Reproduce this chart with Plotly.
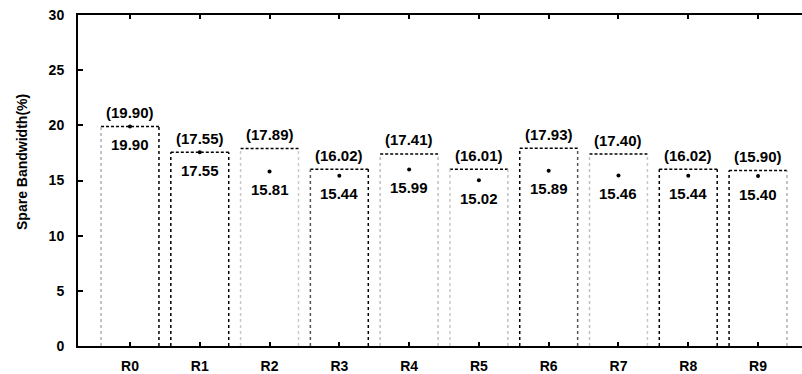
import plotly.graph_objects as go

# Spare bandwidth per router: bar height (bracketed label) and measured point
routers = ["R0", "R1", "R2", "R3", "R4", "R5", "R6", "R7", "R8", "R9"]
bound_vals = [19.90, 17.55, 17.89, 16.02, 17.41, 16.01, 17.93, 17.40, 16.02, 15.90]
measured_vals = [19.90, 17.55, 15.81, 15.44, 15.99, 15.02, 15.89, 15.46, 15.44, 15.40]

# Outline colours of the left / right bar edges
left_edge = ["#b0b0b0", "#000", "#c8c8c8", "#555", "#c0c0c0", "#c8c8c8", "#000", "#c0c0c0", "#000", "#000"]
right_edge = ["#000", "#000", "#c8c8c8", "#000", "#c0c0c0", "#c0c0c0", "#555", "#c8c8c8", "#000", "#b0b0b0"]

BAR_W = 0.83
FONT = "Liberation Sans, Arial, sans-serif"

fig = go.Figure()

for i, (b, m) in enumerate(zip(bound_vals, measured_vals)):
    x0, x1 = i - BAR_W / 2, i + BAR_W / 2
    # dashed top edge
    fig.add_trace(go.Scatter(
        x=[x0, x1], y=[b, b], mode="lines",
        line=dict(color="#000", width=1.5, dash="3px,2px"),
        hoverinfo="skip", showlegend=False))
    # dotted side edges
    fig.add_trace(go.Scatter(
        x=[x0, x0], y=[0, b], mode="lines",
        line=dict(color=left_edge[i], width=1.5, dash="dot"),
        hoverinfo="skip", showlegend=False))
    fig.add_trace(go.Scatter(
        x=[x1, x1], y=[0, b], mode="lines",
        line=dict(color=right_edge[i], width=1.5, dash="dot"),
        hoverinfo="skip", showlegend=False))

# measured points
fig.add_trace(go.Scatter(
    x=list(range(len(routers))), y=measured_vals, mode="markers",
    marker=dict(color="#000", size=4), showlegend=False))

annotations = []
for i, (b, m) in enumerate(zip(bound_vals, measured_vals)):
    annotations.append(dict(
        x=i, y=b, xref="x", yref="y", text=f"<b>({b:.2f})</b>", showarrow=False,
        yanchor="middle", yshift=14, font=dict(family=FONT, size=15, color="#000")))
    annotations.append(dict(
        x=i, y=m, xref="x", yref="y", text=f"<b>{m:.2f}</b>", showarrow=False,
        yanchor="middle", yshift=-18, font=dict(family=FONT, size=15, color="#000")))

# y-axis title
annotations.append(dict(
    x=0, y=0.556, xref="paper", yref="paper", xanchor="center", yanchor="middle",
    xshift=-56, textangle=-90, showarrow=False,
    text="<b>Spare Bandwidth(%)</b>", font=dict(family=FONT, size=14, color="#000")))

fig.update_layout(
    width=802, height=374,
    margin=dict(l=78, r=0, t=15, b=26),
    paper_bgcolor="white", plot_bgcolor="white",
    font=dict(family=FONT, color="#000"),
    annotations=annotations,
    xaxis=dict(
        range=[-0.745, 9.63], tickmode="array",
        tickvals=list(range(len(routers))), ticktext=[f"<b>{r}</b>" for r in routers],
        showline=True, linecolor="#000", linewidth=2, mirror="ticks",
        ticks="inside", ticklen=4, tickcolor="#000", tickwidth=1.5,
        showgrid=False, zeroline=False, ticklabelstandoff=6,
        tickfont=dict(family=FONT, size=14, color="#000")),
    yaxis=dict(
        range=[0, 30], dtick=5, tickformat="d",
        showline=True, linecolor="#000", linewidth=2,
        ticks="inside", ticklen=5, tickcolor="#000", tickwidth=1.5,
        showgrid=False, zeroline=False, ticklabelstandoff=9,
        tickfont=dict(family=FONT, size=14, color="#000", weight="bold")),
)

fig.write_html("out.html")
